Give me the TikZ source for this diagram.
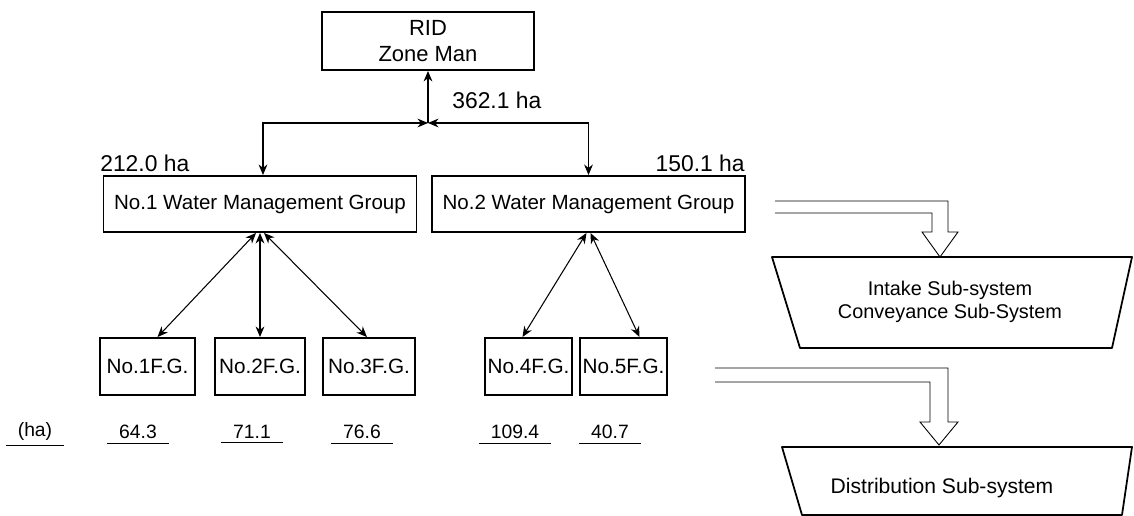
\documentclass[tikz,border=0pt]{standalone}
\usepackage{fontspec}
\setmainfont{Liberation Sans}
\usetikzlibrary{arrows.meta,calc}
\begin{document}
\begin{tikzpicture}[x=0.02cm,y=-0.02cm,
  box/.style={draw, line width=1.1pt, inner sep=0pt, align=center},
  arr/.style={line width=0.6pt, {Stealth[length=6pt,width=5pt]}-{Stealth[length=6pt,width=5pt]}},
  arrup/.style={line width=0.6pt, {Stealth[length=6pt,width=5pt]}-},
  thinl/.style={line width=0.5pt},
  trap/.style={draw, line width=1pt, line join=round},
  lab/.style={inner sep=0pt, font=\fontsize{13pt}{15pt}\selectfont},
  num/.style={inner sep=1pt, font=\fontsize{11pt}{13pt}\selectfont},
  ul/.style={line width=0.5pt}]
\useasboundingbox (0,0) rectangle (1134,516);

% top box
\node[box, minimum width=212*0.02cm, minimum height=58*0.02cm,
      font=\fontsize{12.5pt}{14.5pt}\selectfont] (rid) at (428,41) {RID\\Zone Man};
\node[lab, anchor=west] (tot) at (452,100) {362.1 ha};

% water management groups
\node[box, minimum width=313*0.02cm, minimum height=56*0.02cm,
      font=\fontsize{11.7pt}{14pt}\selectfont] (wmg1) at (260,204) {No.1 Water Management Group};
\node[box, minimum width=313*0.02cm, minimum height=56*0.02cm,
      font=\fontsize{11.7pt}{14pt}\selectfont] (wmg2) at (588.5,204) {No.2 Water Management Group};
\node[lab, anchor=south west] (a1) at (100,172) {212.0 ha};
\node[lab, anchor=south east] (a2) at (745,172) {150.1 ha};

\coordinate (j) at (428,123);
\draw[arrup] (rid.south) -- (j);
\draw[arr] (j) -| ($(wmg1.north)+(3,0)$);
\draw[arr] (j) -| (wmg2.north);

% farm groups
\tikzset{fg/.style={box, minimum height=57*0.02cm, font=\fontsize{11.8pt}{14pt}\selectfont}}
\node[fg, minimum width=95*0.02cm] (fg1) at (147.5,366.5) {No.1F.G.};
\node[fg, minimum width=90*0.02cm] (fg2) at (260,366.5) {No.2F.G.};
\node[fg, minimum width=92*0.02cm] (fg3) at (369,366.5) {No.3F.G.};
\node[fg, minimum width=87*0.02cm] (fg4) at (528.5,366.5) {No.4F.G.};
\node[fg, minimum width=87*0.02cm] (fg5) at (623.5,366.5) {No.5F.G.};

\draw[arr] ($(wmg1.south)+(-4,0)$) -- ($(fg1.north)+(10,0)$);
\draw[arr] (wmg1.south) -- (fg2.north);
\draw[arr] ($(wmg1.south)+(4,0)$) -- ($(fg3.north)+(-2,0)$);
\draw[arr] ($(wmg2.south)+(-2,0)$) -- ($(fg4.north)+(-6,0)$);
\draw[arr] ($(wmg2.south)+(2,0)$) -- ($(fg5.north)+(16,0)$);

% areas
\node[num] (ha) at (35,432) {(ha)};
\node[num] (n1) at (138,432) {64.3};
\node[num] (n2) at (252,432) {71.1};
\node[num] (n3) at (362,432) {76.6};
\node[num] (n4) at (515,432) {109.4};
\node[num] (n5) at (610,432) {40.7};
\foreach \n in {ha,n1,n2,n3,n4,n5}{
  \draw[ul] ($(\n.south west)+(-10,2)$) -- ($(\n.south east)+(10,2)$);
}

% intake sub-system
\draw[trap] (772,257) -- (1132,257) -- (1112,348) -- (800,348) -- cycle;
\node[align=center, inner sep=0pt, font=\fontsize{11.3pt}{13.5pt}\selectfont] (intake) at (950,302)
  {Intake Sub-system\\Conveyance Sub-System};
\coordinate (itip) at (940,257);
\coordinate (ia) at (775,201);
\coordinate (ib) at (775,213);
\draw[thinl, line join=miter] (ia) -- (948,201) -- (948,232) -- (958,232) -- (itip)
  -- (922,232) -- (932,232) -- (932,213) -- (ib);

% distribution sub-system
\draw[trap] (782,447) -- (1132,447) -- (1122,515) -- (802,515) -- cycle;
\node[inner sep=0pt, font=\fontsize{12pt}{14pt}\selectfont] (dist) at (942,488) {Distribution Sub-system};
\coordinate (dtip) at (939,445);
\coordinate (da) at (715,368);
\coordinate (db) at (715,382);
\draw[thinl, line join=miter] (da) -- (948,368) -- (948,422) -- (958,422) -- (dtip)
  -- (920,422) -- (930,422) -- (930,382) -- (db);
\end{tikzpicture}
\end{document}
